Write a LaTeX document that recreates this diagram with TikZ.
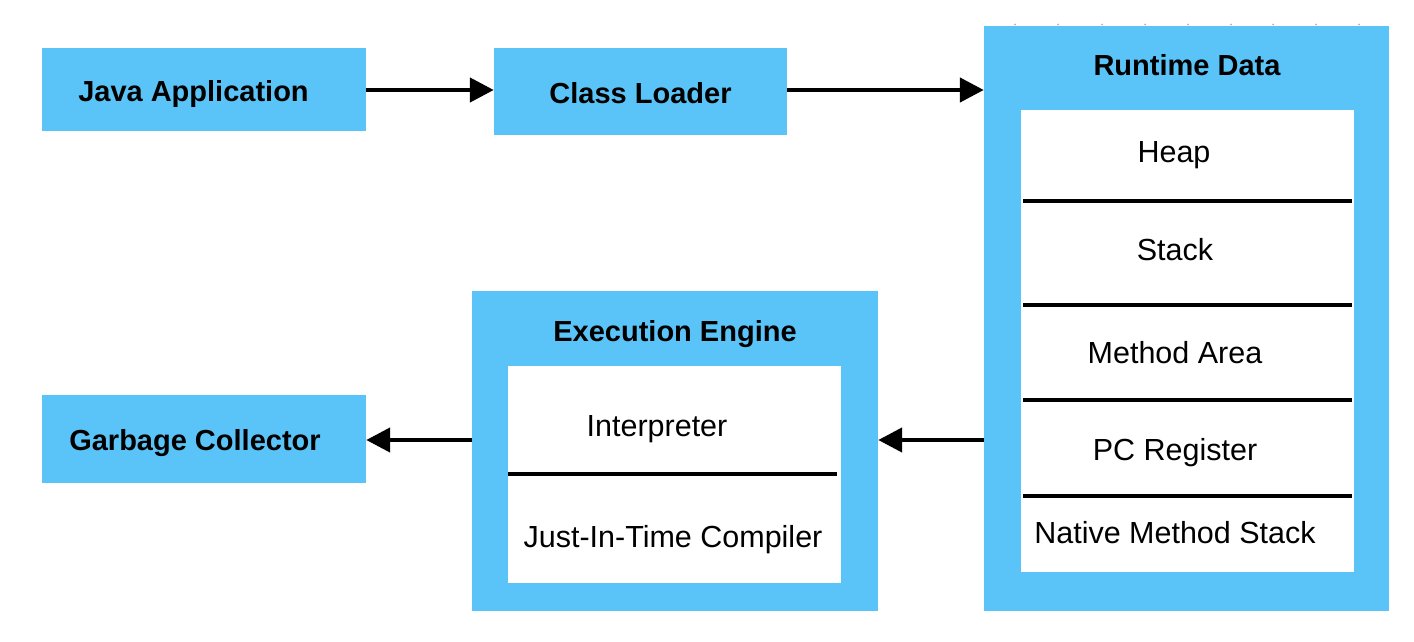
\documentclass[tikz,border=0pt]{standalone}
\usepackage{fontspec}
\setmainfont{Liberation Sans}
\usetikzlibrary{arrows.meta}
\definecolor{jvmblue}{HTML}{5AC4F8}
\tikzset{
  bluebox/.style={fill=jvmblue, draw=none, inner sep=0pt},
  whitebox/.style={fill=white, draw=none, inner sep=0pt},
  titletext/.style={anchor=base, inner sep=0pt, font=\fontsize{29}{34}\selectfont\bfseries},
  itemtext/.style={anchor=base, inner sep=0pt, font=\fontsize{30.5}{35}\selectfont},
  sepline/.style={line width=4pt, black},
  arr/.style={line width=4.5pt, -{Triangle[length=24pt,width=24pt]}, shorten >=0pt},
}
\begin{document}
\begin{tikzpicture}[x=1pt,y=-1pt]
\useasboundingbox (0,0) rectangle (1414,642);
% boxes
\node[bluebox, minimum width=324pt, minimum height=83pt] (java) at (204,89.5) {};
\node[bluebox, minimum width=293pt, minimum height=87pt] (cl) at (640.5,91.5) {};
\node[bluebox, minimum width=405pt, minimum height=585pt] (rt) at (1186.5,318.5) {};
\node[whitebox, minimum width=333pt, minimum height=462pt] (rtin) at (1187.5,341) {};
\node[bluebox, minimum width=406pt, minimum height=320pt] (ee) at (675,451) {};
\node[whitebox, minimum width=333pt, minimum height=217pt] (eein) at (674.5,474.5) {};
\node[bluebox, minimum width=324pt, minimum height=88pt] (gc) at (204,439) {};
% faint ticks on top of runtime data
\foreach \x in {1015,1058,1102,1145,1188,1231,1273,1316,1359}
  \fill[gray!60] (\x,24.5) circle (1pt);
% separators
\foreach \y in {201,305,400,496}
  \draw[sepline] (1023,\y) -- (1352,\y);
\draw[sepline] (508,474) -- (837,474);
% texts
\node[titletext] (tjava) at (193.5,101) {Java Application};
\node[titletext] (tcl) at (640.5,103) {Class Loader};
\node[titletext] (trt) at (1187,76) {Runtime Data};
\node[titletext] (tee) at (675,341) {Execution Engine};
\node[titletext] (tgc) at (195,450) {Garbage Collector};
\node[itemtext] (heap) at (1174,162) {Heap};
\node[itemtext] (stack) at (1175,260) {Stack};
\node[itemtext] (ma) at (1175,363) {Method Area};
\node[itemtext] (pc) at (1175,460) {PC Register};
\node[itemtext] (nms) at (1175,543) {Native Method Stack};
\node[itemtext] (interp) at (657,436) {Interpreter};
\node[itemtext] (jit) at (673,547) {Just-In-Time Compiler};
% arrows
\draw[arr] (java.east |- 0,90) -- (cl.west |- 0,90);
\draw[arr] (cl.east |- 0,90) -- (rt.west |- 0,90);
\draw[arr] (rt.west |- 0,440) -- (ee.east |- 0,440);
\draw[arr] (ee.west |- 0,440) -- (gc.east |- 0,440);
\end{tikzpicture}
\end{document}
